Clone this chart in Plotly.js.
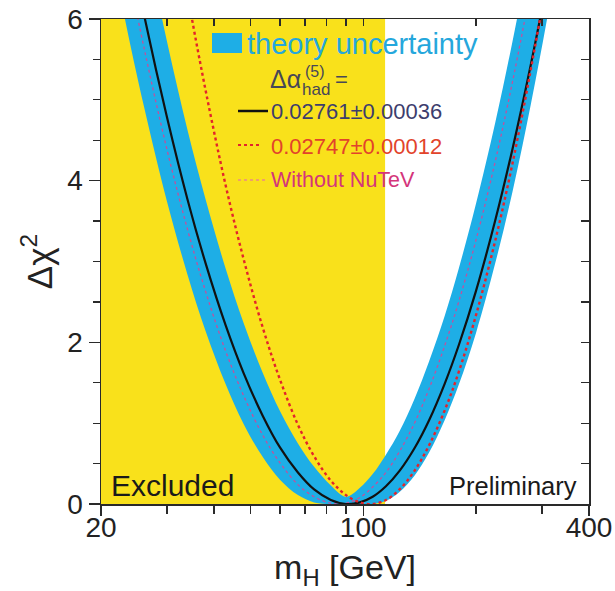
<!DOCTYPE html>
<html><head><meta charset="utf-8">
<script src="https://cdn.plot.ly/plotly-3.0.1.min.js"></script>
<style>html,body{margin:0;padding:0;background:#fff}</style>
</head><body><div id="chart" style="width:615px;height:591px"></div>
<script>
// Higgs mass grid (GeV) and Delta chi^2 values
const massGrid = [20,23,26,30,34,38,43,48,54,60,67,74,82,90,98,106,115,125,137,150,165,180,200,225,250,280,310,345,380,400];
const chiBlack = [8.85,7.31,6.07,4.78,3.77,2.98,2.21,1.62,1.09,0.70,0.39,0.18,0.05,0.00,0.02,0.09,0.22,0.41,0.69,1.04,1.49,1.97,2.64,3.51,4.39,5.44,6.48,7.68,8.84,9.49];
const chiRed = [13.70,11.48,9.69,7.80,6.31,5.12,3.94,3.03,2.18,1.54,0.98,0.59,0.29,0.11,0.02,0.00,0.05,0.18,0.41,0.73,1.16,1.64,2.34,3.26,4.21,5.38,6.54,7.89,9.21,9.96];
const chiNoNuTeV = [8.43,6.88,5.66,4.38,3.40,2.63,1.89,1.34,0.85,0.51,0.24,0.09,0.01,0.01,0.08,0.21,0.39,0.65,1.00,1.43,1.96,2.51,3.27,4.24,5.22,6.39,7.53,8.84,10.10,10.81];
const bandLow = [7.53,6.07,4.93,3.74,2.84,2.14,1.48,0.99,0.58,0.30,0.11,0.02,0,0,0,0,0.04,0.15,0.35,0.64,1.04,1.48,2.12,2.98,3.86,4.95,6.03,7.29,8.53,9.23];
const bandHigh = [9.99,8.38,7.09,5.72,4.63,3.77,2.91,2.24,1.62,1.15,0.75,0.46,0.23,0.09,0.20,0.37,0.61,0.90,1.30,1.77,2.33,2.92,3.72,4.72,5.72,6.90,8.06,9.37,10.64,11.34];
const excludedMass = [20, 114.4];
const chiRange = [0, 6];
const massRange = [20, 400];
const xTickVals = [20, 100, 400];
const xTickText = ['20', '100', '400'];
const xMinorVals = [30,40,50,60,70,80,90,200,300];
const yTickVals = [0, 2, 4, 6];

const FONT = 'Liberation Sans, Arial, Helvetica, sans-serif';
const YELLOW = '#f9e11b';
const BLUE = '#1eaee6';
const AXC = '#2a2a2a';

const traces = [
  {x:[excludedMass[0],excludedMass[1],excludedMass[1],excludedMass[0]], y:[chiRange[0],chiRange[0],chiRange[1],chiRange[1]],
   mode:'lines', fill:'toself', fillcolor:YELLOW, line:{width:0}, hoverinfo:'skip', showlegend:false},
  {x:massGrid, y:bandLow, mode:'lines', line:{width:0, shape:'spline'}, hoverinfo:'skip', showlegend:false},
  {x:massGrid, y:bandHigh, mode:'lines', fill:'tonexty', fillcolor:BLUE, line:{width:0, shape:'spline'}, hoverinfo:'skip', showlegend:false},
  {x:massGrid, y:chiNoNuTeV, mode:'lines', line:{color:'#c2509e', width:1.3, dash:'dot', shape:'spline'}, showlegend:false},
  {x:massGrid, y:chiBlack, mode:'lines', line:{color:'#111', width:2.2, shape:'spline'}, showlegend:false},
  {x:massGrid, y:chiRed, mode:'lines', line:{color:'#e3242b', width:2.4, dash:'dot', shape:'spline'}, showlegend:false},
  {x:[], y:[], xaxis:'x2', yaxis:'y2', mode:'lines', showlegend:false, hoverinfo:'skip'}
];

const L = (px)=> (px-101)/488;
const T = (py)=> (504-py)/485;

const shapes = [
  {type:'rect', xref:'paper', yref:'paper', x0:L(212), x1:L(242), y0:T(53), y1:T(33), fillcolor:BLUE, line:{width:0}},
  {type:'line', xref:'paper', yref:'paper', x0:L(238), x1:L(268), y0:T(111), y1:T(111), line:{color:'#111', width:2.5}},
  {type:'line', xref:'paper', yref:'paper', x0:L(238), x1:L(262), y0:T(145), y1:T(145), line:{color:'#e3242b', width:2.2, dash:'dot'}},
  {type:'line', xref:'paper', yref:'paper', x0:L(238), x1:L(265), y0:T(180), y1:T(180), line:{color:'#eb8a84', width:1.3, dash:'dot'}}
];

function ann(text, px, py, size, color, xanchor){
  return {text:text, xref:'paper', yref:'paper', x:L(px), y:T(py), xanchor:xanchor||'left', yanchor:'middle',
    showarrow:false, font:{family:FONT, size:size, color:color}};
}
const annotations = [
  ann('theory uncertainty', 245, 44, 29, '#25a7dc'),
  ann('Δα', 268, 79, 25, '#474757'),
  ann('(5)', 303, 72, 16, '#474757'),
  ann('had', 300, 89, 17, '#474757'),
  ann('=', 333, 79, 22, '#474757'),
  ann('0.02761±0.00036', 269, 112, 22, '#3d3d6d'),
  ann('0.02747±0.00012', 269, 146, 22, '#e2432b'),
  ann('Without NuTeV', 269, 180, 21.5, '#d4357a'),
  ann('Excluded', 109, 485, 30, '#1a1a1a'),
  ann('Preliminary', 579, 486, 25.5, '#1a1a1a', 'right')
];

const logRange = [Math.log10(massRange[0]), Math.log10(massRange[1])];
const layout = {
  width:615, height:591,
  margin:{l:101, r:26, t:19, b:87, pad:0},
  paper_bgcolor:'#fff', plot_bgcolor:'#fff',
  showlegend:false,
  font:{family:FONT, color:'#222'},
  xaxis:{type:'log', range:logRange, tickmode:'array', tickvals:xTickVals, ticktext:xTickText,
    ticks:'outside', ticklen:10, tickwidth:1.3, tickcolor:AXC, showline:true, linecolor:AXC, linewidth:1.5,
    showgrid:false, zeroline:false, tickfont:{size:28, color:'#222'}, ticklabelstandoff:-12,
    minor:{tickmode:'array', tickvals:xMinorVals, ticks:'outside', ticklen:8, tickwidth:1.3, tickcolor:AXC, showgrid:false},
    title:{text:'m<sub>H</sub> [GeV]', font:{size:34, color:'#222'}, standoff:16}, fixedrange:true},
  yaxis:{range:chiRange, tickmode:'array', tickvals:yTickVals, ticks:'outside', ticklen:11, tickwidth:1.3, tickcolor:AXC,
    showline:true, linecolor:AXC, linewidth:1.5, showgrid:false, zeroline:false, tickfont:{size:28, color:'#222'},
    minor:{dtick:0.5, tick0:0, ticks:'outside', ticklen:7, tickwidth:1.3, tickcolor:AXC, showgrid:false},
    title:{text:'Δχ<sup>2</sup>', font:{size:35, color:'#222'}, standoff:4}, fixedrange:true},
  xaxis2:{type:'log', range:logRange, overlaying:'x', side:'top', anchor:'y2', tickmode:'array',
    tickvals:[30,40,50,60,70,80,90,100,200,300], ticks:'inside', ticklen:7, tickwidth:1.3, tickcolor:AXC,
    showticklabels:false, showline:true, linecolor:AXC, linewidth:1.5, showgrid:false, zeroline:false, fixedrange:true},
  yaxis2:{range:chiRange, overlaying:'y', side:'right', anchor:'x2', tickmode:'linear', tick0:0, dtick:0.5,
    ticks:'inside', ticklen:8, tickwidth:1.3, tickcolor:AXC, showticklabels:false, showline:true, linecolor:AXC,
    linewidth:1.5, showgrid:false, zeroline:false, fixedrange:true},
  shapes:shapes,
  annotations:annotations
};
Plotly.newPlot('chart', traces, layout, {staticPlot:true, displayModeBar:false});
</script>
</body></html>
